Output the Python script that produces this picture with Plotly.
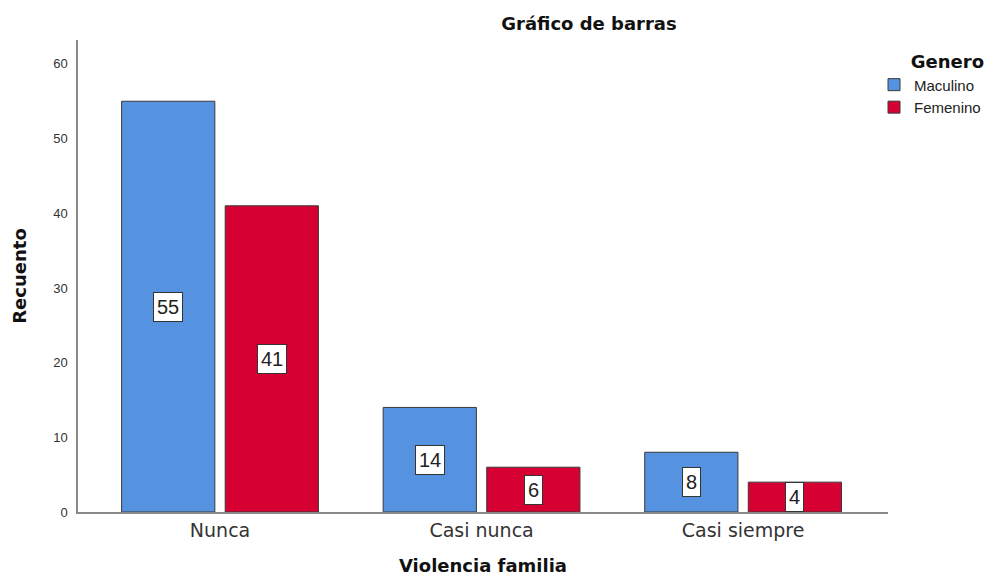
import plotly.graph_objects as go

categorias = ["Nunca", "Casi nunca", "Casi siempre"]
masculino = [55, 14, 8]
femenino = [41, 6, 4]

series = [
    ("Maculino", masculino, "#5592E0"),
    ("Femenino", femenino, "#D70032"),
]

# la página tiene un margen de 8 px en el body
W, H = 985, 568

fig = go.Figure()
for nombre, valores, color in series:
    fig.add_trace(
        go.Bar(
            x=categorias,
            y=valores,
            name=nombre,
            marker=dict(color=color, line=dict(color="#3a3a3a", width=1)),
        )
    )

# etiquetas en caja blanca en el centro de cada barra
for i, (nombre, valores, color) in enumerate(series):
    desplaz = -51.75 if i == 0 else 51.75
    for cat, v in zip(categorias, valores):
        fig.add_annotation(
            x=cat,
            y=v / 2,
            text=str(v),
            showarrow=False,
            xshift=desplaz,
            font=dict(family="Liberation Sans", size=20, color="#222"),
            bgcolor="white",
            bordercolor="#333",
            borderwidth=1,
            borderpad=3,
        )

fig.update_layout(
    width=W,
    height=H,
    margin=dict(l=70, r=105, t=32, b=64, autoexpand=False),
    paper_bgcolor="white",
    plot_bgcolor="white",
    barmode="group",
    bargap=0.208,
    bargroupgap=0.1,
    font=dict(family="Liberation Sans", color="#222"),
    title=dict(
        text="<b>Gráfico de barras</b>",
        x=581 / W,
        xanchor="center",
        xref="container",
        y=1 - 16 / H,
        yref="container",
        yanchor="middle",
        font=dict(family="DejaVu Sans", size=18, color="#111"),
    ),
    legend=dict(
        title=dict(text="<b>Genero</b>", font=dict(family="DejaVu Sans", size=18, color="#111"), side="top right"),
        xref="container",
        x=866 / W,
        xanchor="left",
        yref="container",
        y=1 - 37 / H,
        yanchor="top",
        font=dict(size=15, color="#222"),
        itemwidth=30,
        tracegroupgap=0,
    ),
    xaxis=dict(
        range=[-0.543, 2.554],
        showline=True,
        linecolor="#888",
        linewidth=1.5,
        ticks="",
        automargin=False,
        tickfont=dict(family="DejaVu Sans", size=19, color="#333"),
        title=dict(text="<b>Violencia familia</b>", font=dict(family="DejaVu Sans", size=18, color="#111"), standoff=24),
    ),
    yaxis=dict(
        range=[0, 63.2],
        tick0=0,
        dtick=10,
        showline=True,
        linecolor="#888",
        linewidth=1.5,
        showgrid=False,
        zeroline=False,
        ticks="",
        automargin=False,
        ticklabelstandoff=6,
        tickfont=dict(size=13, color="#333"),
        title=dict(text="<b>Recuento</b>", font=dict(family="DejaVu Sans", size=18, color="#111"), standoff=22),
    ),
)

fig.write_html("out.html")
